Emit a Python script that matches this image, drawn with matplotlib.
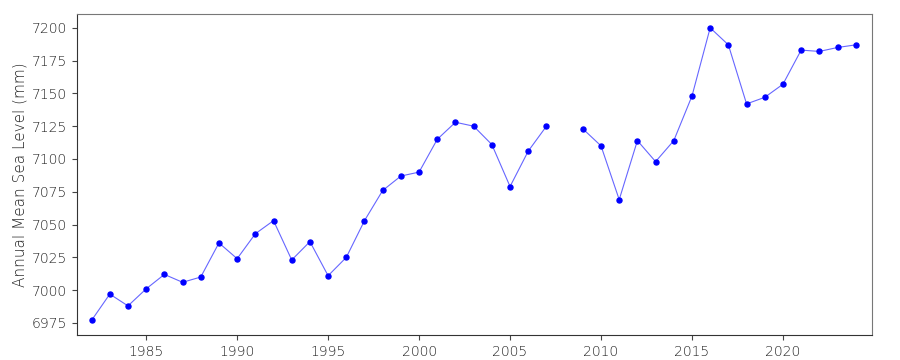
import numpy as np
import matplotlib
matplotlib.use("Agg")
import matplotlib.pyplot as plt

years = list(range(1982, 2025))
sea_level = [6977, 6997, 6988, 7001, 7012, 7006, 7010, 7036, 7024, 7043,
             7053, 7023, 7037, 7011, 7025, 7053, 7076, 7087, 7090, 7115,
             7128, 7125, 7111, 7079, 7106, 7125, np.nan, 7123, 7110, 7069,
             7114, 7098, 7114, 7148, 7200, 7187, 7142, 7147, 7157, 7183,
             7182, 7185, 7187]
yticks = [6975, 7000, 7025, 7050, 7075, 7100, 7125, 7150, 7175, 7200]
xticks = [1985, 1990, 1995, 2000, 2005, 2010, 2015, 2020]
ylabel = "Annual Mean Sea Level (mm)"

plt.rcParams["font.family"] = ["DejaVu Sans"]
plt.rcParams["font.weight"] = "light"

fig = plt.figure(figsize=(9, 3.6), dpi=100)
ax = fig.add_axes([0.0856, 0.0694, 0.8834, 0.8916])
ax.plot(years, sea_level, color="blue", alpha=0.6, linewidth=0.8)
ax.plot(years, sea_level, linestyle="none", marker="o", markersize=3.6,
        color="blue")
ax.set_xlim(1981.2, 2024.9)
ax.set_ylim(6965.8, 7210.5)
ax.set_yticks(yticks)
ax.set_xticks(xticks)
ax.set_ylabel(ylabel, fontsize=11, color="#222222", fontweight="light",
              labelpad=3)
ax.tick_params(labelsize=10, labelcolor="#222222", color="#444444")
for lab in ax.get_xticklabels() + ax.get_yticklabels():
    lab.set_fontweight("light")
for s in ["left", "bottom"]:
    ax.spines[s].set_color("#333333")
for s in ["top", "right"]:
    ax.spines[s].set_color("#777777")
fig.savefig("out.png", dpi=100)
